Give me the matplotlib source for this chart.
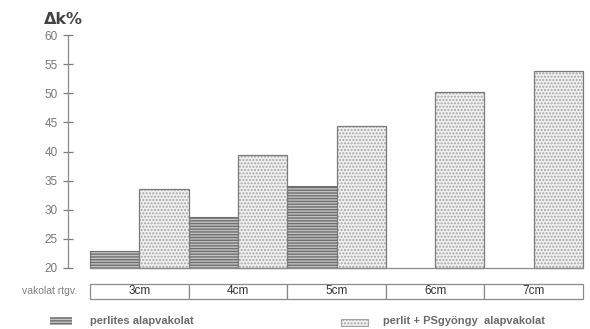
import matplotlib
matplotlib.use("Agg")
import matplotlib.pyplot as plt
from matplotlib.patches import Rectangle
import numpy as np

plt.rcParams['font.family'] = ['Liberation Sans Narrow', 'Liberation Sans', 'DejaVu Sans']
plt.rcParams['hatch.linewidth'] = 1.0

categories = ["3cm", "4cm", "5cm", "6cm", "7cm"]
perlites = [22.9, 28.8, 34.0, np.nan, np.nan]
perlit_ps = [33.6, 39.4, 44.4, 50.2, 53.9]
yticks = [20, 25, 30, 35, 40, 45, 50, 55, 60]
series_names = ["perlites alapvakolat", "perlit + PSgyöngy  alapvakolat"]
row_label = "vakolat rtgv."
y_label = "Δk%"

W, H = 590, 329
fig = plt.figure(figsize=(W / 100, H / 100), dpi=100)

# main axes
ax_l, ax_r, ax_t, ax_b = 68, 583, 35, 268
ax = fig.add_axes([ax_l / W, 1 - ax_b / H, (ax_r - ax_l) / W, (ax_b - ax_t) / H])
n = len(categories)
x0 = -22 / 98.6
ax.set_xlim(x0, n)
ax.set_ylim(20, 60)

x = np.arange(n)
bw = 0.5
per = np.array(perlites, dtype=float)
ps = np.array(perlit_ps, dtype=float)
ax.bar(x, per - 20, bottom=20, width=bw, align='edge', facecolor='#c4c4c4',
       edgecolor='#6e6e6e', hatch='------', linewidth=0.0, clip_on=False)
ax.bar(x, per - 20, bottom=20, width=bw, align='edge', fill=False,
       edgecolor='#6e6e6e', linewidth=0.8, clip_on=False)
ax.bar(x + bw, ps - 20, bottom=20, width=bw, align='edge', facecolor='#f0f0f0',
       edgecolor='#a4a4a4', hatch='.....', linewidth=0.0, clip_on=False)
ax.bar(x + bw, ps - 20, bottom=20, width=bw, align='edge', fill=False,
       edgecolor='#7a7a7a', linewidth=0.9, clip_on=False)
ax.plot([0, n], [20, 20], color='#8a8a8a', lw=0.9, clip_on=False)

for s in ['top', 'right', 'bottom']:
    ax.spines[s].set_visible(False)
ax.spines['left'].set_color('#8a8a8a')
ax.spines['left'].set_linewidth(0.9)
ax.set_xticks([])
ax.set_yticks(yticks)
ax.tick_params(axis='y', direction='inout', length=7, width=0.9, color='#7a7a7a',
               labelcolor='#777777', labelsize=8.5, pad=4)

# category table
tb_t, tb_b = 284, 299
tax = fig.add_axes([ax_l / W, 1 - tb_b / H, (ax_r - ax_l) / W, (tb_b - tb_t) / H])
tax.set_xlim(x0, n)
tax.set_ylim(0, 1)
tax.axis('off')
for i, c in enumerate(categories):
    tax.add_patch(Rectangle((i, 0), 1, 1, facecolor='white', edgecolor='#8a8a8a',
                            linewidth=0.9, clip_on=False))
    tax.text(i + 0.5, 0.5, c, ha='center', va='center', fontsize=8.5, color='#333333')

fig.text(77 / W, 1 - 291.5 / H, row_label, ha='right', va='center', fontsize=7.5,
         color='#808080')

# y label
fig.text(44 / W, 1 - 20 / H, y_label, ha='left', va='center', fontsize=11.5,
         fontweight='bold', color='#444444', family=['DejaVu Sans'])

# legend
leg_y = 321
p1 = Rectangle((50 / W, 1 - 325 / H), 22 / W, 8 / H, transform=fig.transFigure,
               facecolor='#c4c4c4', edgecolor='#6e6e6e', hatch='------', linewidth=0.0)
fig.patches.append(p1)
fig.text(90 / W, 1 - leg_y / H, series_names[0], ha='left', va='center', fontsize=8,
         fontweight='bold', color='#6a6a6a')
p2 = Rectangle((341 / W, 1 - 325.5 / H), 27 / W, 7 / H, transform=fig.transFigure,
               facecolor='#f0f0f0', edgecolor='#a4a4a4', hatch='.....', linewidth=0.8)
fig.patches.append(p2)
fig.text(383 / W, 1 - leg_y / H, series_names[1], ha='left', va='center', fontsize=8,
         fontweight='bold', color='#6a6a6a')

fig.savefig('out.png', dpi=100)
